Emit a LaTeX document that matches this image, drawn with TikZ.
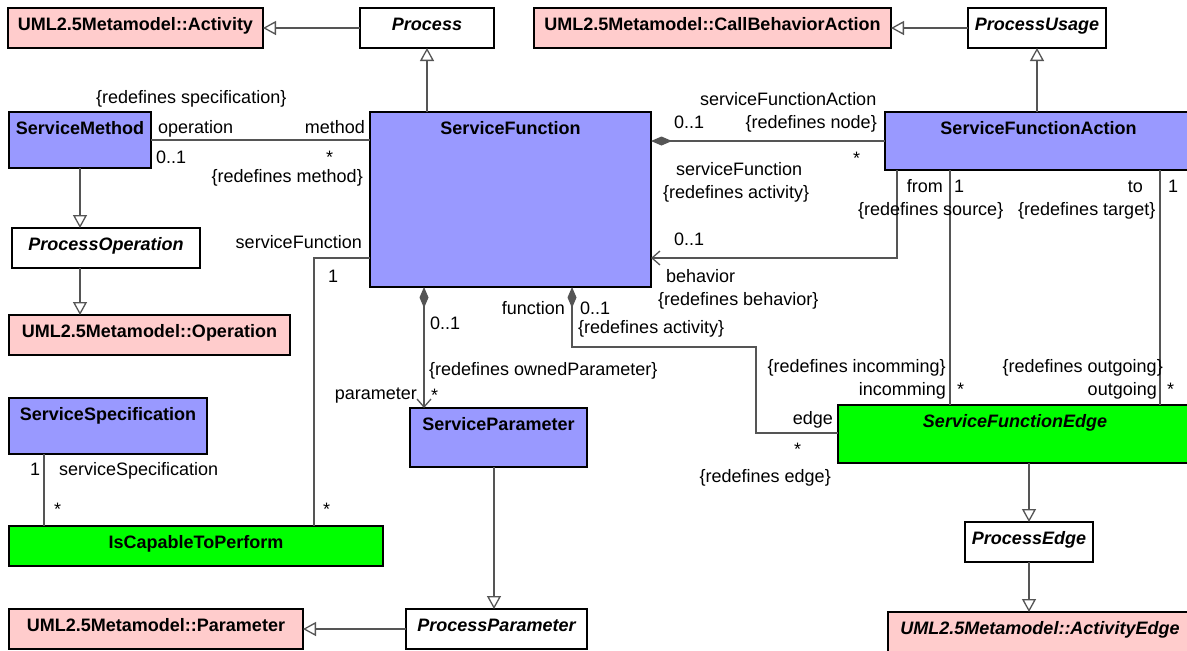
\documentclass[tikz,border=0pt]{standalone}
\usepackage{fontspec}
\setmainfont{Liberation Sans}
\usetikzlibrary{arrows.meta}
\definecolor{umlpink}{HTML}{FFCCCC}
\definecolor{umlblue}{HTML}{9999FF}
\definecolor{umlgreen}{HTML}{00FF00}
\definecolor{conngray}{HTML}{555555}
\tikzset{
  ubox/.style={draw=black, line width=1.4pt, inner sep=0pt, outer sep=0pt},
  utitle/.style={font=\fontsize{18}{21}\selectfont\bfseries, inner sep=0pt, anchor=base},
  lbl/.style={font=\fontsize{18}{21}\selectfont, inner sep=0pt},
  cline/.style={draw=conngray, line width=1.3pt},
  gen/.style={cline, -{Triangle[open, length=13pt, width=14pt]}},
  nav/.style={cline, -{Straight Barb[length=8pt, width=14pt]}},
  comp/.style={cline, {Diamond[length=21pt, width=9pt, fill=conngray]}-},
  compnav/.style={cline, {Diamond[length=21pt, width=9pt, fill=conngray]}-{Straight Barb[length=8pt, width=14pt]}},
}
\newcommand\umlbox[7]{%
  \node[ubox, fill=#6, minimum width={(#4-#2)*1pt}, minimum height={(#5-#3)*1pt}] (#1) at ({(#2+#4)/2},{(#3+#5)/2}) {};
  \node[utitle] (#1-t) at ({(#2+#4)/2},{#3+22}) {#7};
}
\begin{document}
\begin{tikzpicture}[x=1pt, y=-1pt]
\useasboundingbox[fill=white] (0,0) rectangle (1187,651);
% boxes
\umlbox{activity}{8}{8}{263}{48}{umlpink}{UML2.5Metamodel::Activity}
\umlbox{process}{360}{8}{494}{48}{white}{\itshape Process}
\umlbox{cba}{534}{8}{891}{48}{umlpink}{UML2.5Metamodel::CallBehaviorAction}
\umlbox{pu}{968}{8}{1106}{48}{white}{\itshape ProcessUsage}
\umlbox{sm}{9}{112}{151}{168}{umlblue}{ServiceMethod}
\umlbox{sf}{370}{112}{651}{287}{umlblue}{ServiceFunction}
\umlbox{sfa}{885}{112}{1192}{170}{umlblue}{ServiceFunctionAction}
\umlbox{po}{12}{228}{200}{268}{white}{\itshape ProcessOperation}
\umlbox{op}{9}{315}{290}{355}{umlpink}{UML2.5Metamodel::Operation}
\umlbox{ss}{9}{398}{207}{454}{umlblue}{ServiceSpecification}
\umlbox{sp}{410}{408}{587}{467}{umlblue}{ServiceParameter}
\umlbox{ict}{9}{526}{383}{566}{umlgreen}{IsCapableToPerform}
\umlbox{sfe}{838}{405}{1192}{463}{umlgreen}{\itshape ServiceFunctionEdge}
\umlbox{pe}{965}{522}{1093}{562}{white}{\itshape ProcessEdge}
\umlbox{pp}{406}{609}{587}{649}{white}{\itshape ProcessParameter}
\umlbox{param}{9}{609}{303}{649}{umlpink}{UML2.5Metamodel::Parameter}
\umlbox{ae}{888}{612}{1192}{656}{umlpink}{\itshape UML2.5Metamodel::ActivityEdge}
% generalizations
\draw[gen] (process.west) -- (activity.east);
\draw[gen] (pu.west) -- (cba.east);
\draw[gen] (process.south |- sf.north) -- (process.south);
\draw[gen] (pu.south |- sfa.north) -- (pu.south);
\draw[gen] (sm.south) -- (sm.south |- po.north);
\draw[gen] (sm.south |- po.south) -- (sm.south |- op.north);
\draw[gen] (pe.north |- sfe.south) -- (pe.north);
\draw[gen] (pe.south) -- (pe.south |- ae.north);
\draw[gen] ([xshift=84pt]sp.south west) -- ([xshift=88pt]pp.north west);
\draw[gen] (pp.west) -- (param.east);
% associations
\draw[cline] (sm.east) -- (sm.east -| sf.west);
\draw[cline] ([yshift=29pt]sf.south west) -| ([xshift=305pt]ict.north west);
\draw[cline] ([xshift=35pt]ss.south west) -- ([xshift=35pt]ict.north west);
\draw[compnav] ([xshift=54pt]sf.south west) -- ([xshift=14pt]sp.north west);
\draw[comp] ([xshift=202pt]sf.south west) |- (756,347) |- ([yshift=-28pt]sfe.north west);
\draw[comp] (sfa.west -| sf.east) -- (sfa.west);
\draw[nav] ([xshift=12pt]sfa.south west) |- ([yshift=29pt]sf.south east);
\draw[cline] ([xshift=65pt]sfa.south west) -- ([xshift=112pt]sfe.north west);
\draw[cline] ([xshift=275pt]sfa.south west) -- ([xshift=322pt]sfe.north west);
% labels
\node[lbl, anchor=base west] (l1) at (96,103) {\{redefines specification\}};
\node[lbl, anchor=base west] (l2) at (158,133) {operation};
\node[lbl, anchor=base east] (l3) at (365,133) {method};
\node[lbl, anchor=base west] (l4) at (156,163) {0..1};
\node[lbl, anchor=base west] (l5) at (326,163) {*};
\node[lbl, anchor=base east] (l6) at (363,182) {\{redefines method\}};
\node[lbl, anchor=base east] (l7) at (362,248) {serviceFunction};
\node[lbl, anchor=base west] (l8) at (328,282) {1};
\node[lbl, anchor=base west] (l9) at (700,105) {serviceFunctionAction};
\node[lbl, anchor=base west] (l10) at (674,128) {0..1};
\node[lbl, anchor=base east] (l11) at (877,128) {\{redefines node\}};
\node[lbl, anchor=base west] (l12) at (853,164) {*};
\node[lbl, anchor=base west] (l13) at (676,175) {serviceFunction};
\node[lbl, anchor=base west] (l14) at (663,198) {\{redefines activity\}};
\node[lbl, anchor=base west] (l15) at (674,245) {0..1};
\node[lbl, anchor=base west] (l16) at (666,282) {behavior};
\node[lbl, anchor=base west] (l17) at (658,305) {\{redefines behavior\}};
\node[lbl, anchor=base east] (l18) at (943,192) {from};
\node[lbl, anchor=base west] (l19) at (954,192) {1};
\node[lbl, anchor=base west] (l20) at (858,215) {\{redefines source\}};
\node[lbl, anchor=base east] (l21) at (1143,192) {to};
\node[lbl, anchor=base west] (l22) at (1018,215) {\{redefines target\}};
\node[lbl, anchor=base west] (l23) at (1168,192) {1};
\node[lbl, anchor=base east] (l24) at (946,372) {\{redefines incomming\}};
\node[lbl, anchor=base east] (l25) at (946,395) {incomming};
\node[lbl, anchor=base west] (l26) at (957,395) {*};
\node[lbl, anchor=base east] (l27) at (1163,372) {\{redefines outgoing\}};
\node[lbl, anchor=base east] (l28) at (1157,395) {outgoing};
\node[lbl, anchor=base west] (l29) at (1167,395) {*};
\node[lbl, anchor=base east] (l30) at (833,424) {edge};
\node[lbl, anchor=base west] (l31) at (794,455) {*};
\node[lbl, anchor=base east] (l32) at (831,482) {\{redefines edge\}};
\node[lbl, anchor=base east] (l33) at (565,314) {function};
\node[lbl, anchor=base west] (l34) at (580,314) {0..1};
\node[lbl, anchor=base west] (l35) at (578,333) {\{redefines activity\}};
\node[lbl, anchor=base west] (l36) at (430,329) {0..1};
\node[lbl, anchor=base west] (l37) at (429,375) {\{redefines ownedParameter\}};
\node[lbl, anchor=base east] (l38) at (417,399) {parameter};
\node[lbl, anchor=base west] (l39) at (431,401) {*};
\node[lbl, anchor=base west] (l40) at (30,475) {1};
\node[lbl, anchor=base west] (l41) at (59,475) {serviceSpecification};
\node[lbl, anchor=base west] (l42) at (54,515) {*};
\node[lbl, anchor=base west] (l43) at (323,515) {*};
\end{tikzpicture}
\end{document}
